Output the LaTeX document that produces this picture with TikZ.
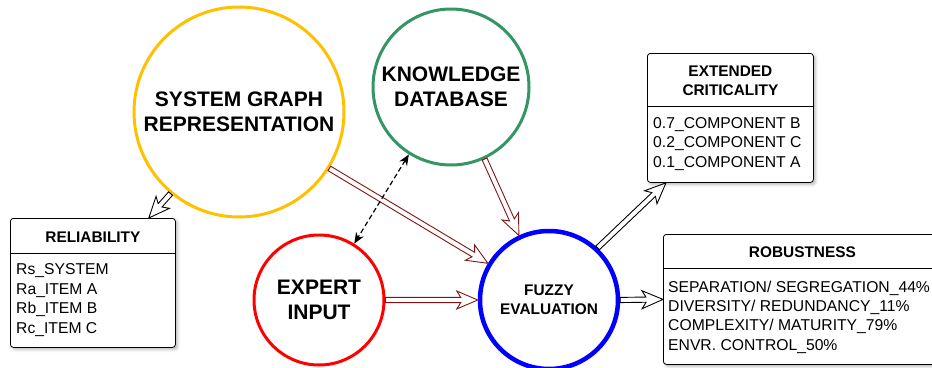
\documentclass[tikz,border=0pt]{standalone}
\usepackage{fontspec}
\setmainfont{Liberation Sans}
\usetikzlibrary{calc,arrows.meta,shadows.blur}

\definecolor{sgyellow}{RGB}{255,192,0}
\definecolor{kbgreen}{RGB}{52,150,100}
\definecolor{flowred}{RGB}{128,20,20}

% hollow block arrow: colour, start point, end point
\newcommand\hollowarrow[3]{%
  \coordinate (ha-s) at (#2);
  \coordinate (ha-e) at (#3);
  \coordinate (ha-j) at ($(ha-e)!17pt!(ha-s)$);
  \coordinate (ha-b) at ($(ha-e)!21pt!(ha-s)$);
  \draw[#1, line width=0.9pt, line join=miter]
    ($(ha-s)!2.6pt!90:(ha-e)$) -- ($(ha-j)!2.6pt!90:(ha-e)$)
    -- ($(ha-b)!9pt!90:(ha-e)$) -- (ha-e)
    -- ($(ha-b)!9pt!-90:(ha-e)$) -- ($(ha-j)!2.6pt!-90:(ha-e)$)
    -- ($(ha-s)!2.6pt!-90:(ha-e)$) -- cycle;
}

\tikzset{
  bubble/.style={circle, draw, inner sep=0pt, align=center,
    font=\bfseries\fontsize{21}{25}\selectfont},
  card/.style={draw, rounded corners=3pt, fill=white, line width=0.8pt,
    blur shadow={shadow xshift=2pt, shadow yshift=-2pt,
      shadow blur radius=3pt, shadow opacity=30}},
  hdr/.style={align=center, inner sep=0pt,
    font=\bfseries\fontsize{15.4}{19}\selectfont},
  body/.style={align=left, inner sep=0pt, anchor=west,
    font=\fontsize{15.7}{19.4}\selectfont},
  exchange/.style={line width=1.2pt, dash pattern=on 5pt off 3pt,
    {Stealth[length=11pt,width=9pt]}-{Stealth[length=11pt,width=9pt]}},
}

\begin{document}
\begin{tikzpicture}[x=1pt, y=-1pt]
\useasboundingbox (0,0) rectangle (932,367);

% circles
\node[bubble, draw=sgyellow, line width=3pt, minimum size=210pt] (sg) at (239,112) {SYSTEM GRAPH\\REPRESENTATION};
\node[bubble, draw=kbgreen, line width=3pt, minimum size=156pt] (kb) at (451,87) {KNOWLEDGE\\DATABASE};
\node[bubble, draw=red, line width=3pt, minimum size=130pt] (ei) at (319,300) {EXPERT\\INPUT};
\node[bubble, draw=blue, line width=4.5pt, minimum size=138pt,
  font=\bfseries\fontsize{15.4}{19}\selectfont] (fz) at (549,300) {FUZZY\\EVALUATION};

% reliability card
\node[card, minimum width=165pt, minimum height=129pt, anchor=north west] (rel) at (10,218) {};
\draw[line width=0.8pt] ($(rel.north west)+(0,35)$) -- ($(rel.north east)+(0,35)$);
\node[hdr] (relh) at ($(rel.north)+(0,19)$) {RELIABILITY};
\node[body] (relb) at (16,300) {Rs\_SYSTEM\\Ra\_ITEM A\\Rb\_ITEM B\\Rc\_ITEM C};

% extended criticality card
\node[card, minimum width=166pt, minimum height=129pt, anchor=north west] (ec) at (647,53) {};
\draw[line width=0.8pt] ($(ec.north west)+(0,53)$) -- ($(ec.north east)+(0,53)$);
\node[hdr] (ech) at ($(ec.north)+(0,27.5)$) {EXTENDED\\CRITICALITY};
\node[body] (ecb) at (653,144) {0.7\_COMPONENT B\\0.2\_COMPONENT C\\0.1\_COMPONENT A};

% robustness card
\node[card, minimum width=278pt, minimum height=130pt, anchor=north west] (rob) at (663,234) {};
\draw[line width=0.8pt] ($(rob.north west)+(0,34)$) -- ($(rob.north east)+(0,34)$);
\node[hdr] (robh) at ($(rob.north)+(0,18)$) {ROBUSTNESS};
\node[body] (robb) at (668,317) {SEPARATION/ SEGREGATION\_44\%\\DIVERSITY/ REDUNDANCY\_11\%\\COMPLEXITY/ MATURITY\_79\%\\ENVR. CONTROL\_50\%};

% flows
\hollowarrow{flowred}{sg.-32}{fz.149}
\hollowarrow{flowred}{kb.-65}{fz.115}
\hollowarrow{flowred}{ei.east}{fz.west}
\hollowarrow{black}{sg.-130}{$(rel.north east)+(-27,0)$}
\hollowarrow{black}{fz.47}{$(ec.south west)+(19,0)$}
\hollowarrow{black}{fz.east}{rob.west}

\draw[exchange] (kb.-122) -- (ei.58);
\end{tikzpicture}
\end{document}
